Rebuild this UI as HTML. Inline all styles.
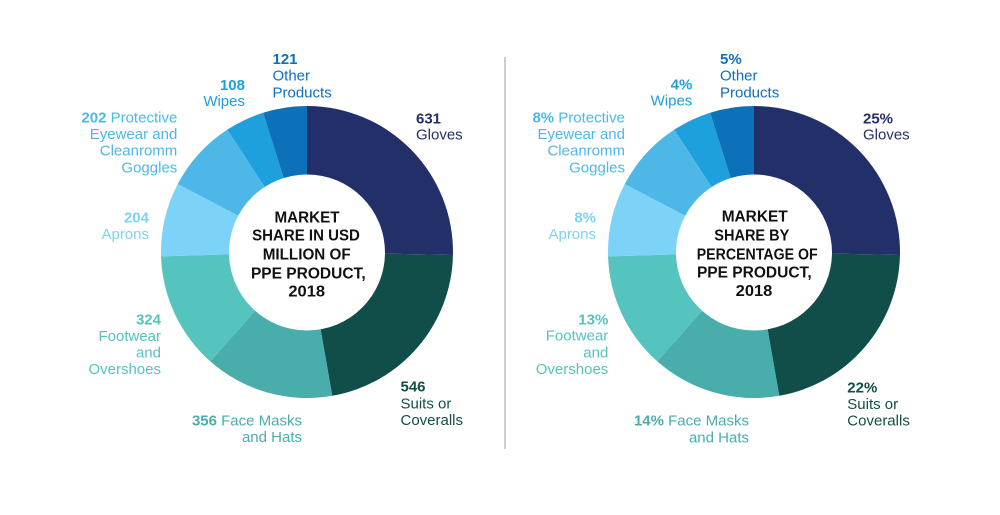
<!DOCTYPE html>
<html>
<head>
<meta charset="utf-8">
<style>
  html, body { margin: 0; padding: 0; background: #ffffff; }
  body { width: 1000px; height: 515px; overflow: hidden; }
  svg { display: block; }
  text { font-family: "Liberation Sans", "DejaVu Sans", sans-serif; font-size: 15px; }
  .b { font-weight: bold; }
  .c { font-weight: bold; font-size: 16px; fill: #111111; }
</style>
</head>
<body>
<svg width="1000" height="515" viewBox="0 0 1000 515" xmlns="http://www.w3.org/2000/svg">
  <rect x="0" y="0" width="1000" height="515" fill="#ffffff"/>

  <!-- Divider -->
  <line x1="505" y1="57" x2="505" y2="449" stroke="#bdbdbd" stroke-width="1.5"/>

  <!-- LEFT DONUT -->
  <g id="donut">
    <path d="M307 252 L307 106 A146 146 0 0 1 452.97 254.94 Z" fill="#232f69"/>
    <path d="M307 252 L452.97 254.94 A146 146 0 0 1 332.27 395.80 Z" fill="#114d49"/>
    <path d="M307 252 L332.27 395.80 A146 146 0 0 1 210.31 361.40 Z" fill="#49aeab"/>
    <path d="M307 252 L210.31 361.40 A146 146 0 0 1 161.07 256.42 Z" fill="#55c3be"/>
    <path d="M307 252 L161.07 256.42 A146 146 0 0 1 177.77 184.05 Z" fill="#7dd3f7"/>
    <path d="M307 252 L177.77 184.05 A146 146 0 0 1 227.30 129.67 Z" fill="#4db8e8"/>
    <path d="M307 252 L227.30 129.67 A146 146 0 0 1 263.15 112.74 Z" fill="#1ea0dc"/>
    <path d="M307 252 L263.15 112.74 A146 146 0 0 1 307 106 Z" fill="#0d71b9"/>
    <circle cx="307" cy="252.5" r="78" fill="#ffffff"/>
  </g>

  <text class="c" x="307" y="222.3" text-anchor="middle" textLength="65" lengthAdjust="spacingAndGlyphs">MARKET</text>
  <text class="c" x="306" y="240.7" text-anchor="middle" textLength="107.7" lengthAdjust="spacingAndGlyphs">SHARE IN USD</text>
  <text class="c" x="306.7" y="259.3" text-anchor="middle" textLength="88" lengthAdjust="spacingAndGlyphs">MILLION OF</text>
  <text class="c" x="308.3" y="278.3" text-anchor="middle" textLength="114.7" lengthAdjust="spacingAndGlyphs">PPE PRODUCT,</text>
  <text class="c" x="306.7" y="296.7" text-anchor="middle" textLength="36.7" lengthAdjust="spacingAndGlyphs">2018</text>

  <!-- Left labels -->
  <g fill="#232f69">
    <text class="b" x="416" y="123.3">631</text>
    <text x="416" y="139.5">Gloves</text>
  </g>
  <g fill="#114d49">
    <text class="b" x="400.5" y="391.5">546</text>
    <text x="400.5" y="408.5">Suits or</text>
    <text x="400.5" y="425">Coveralls</text>
  </g>
  <g fill="#49aeab" text-anchor="end">
    <text x="302" y="425.5"><tspan class="b">356</tspan> Face Masks</text>
    <text x="302" y="442">and Hats</text>
  </g>
  <g fill="#55c3be" text-anchor="end">
    <text class="b" x="161" y="324.3">324</text>
    <text x="161" y="340.8">Footwear</text>
    <text x="161" y="357.3">and</text>
    <text x="161" y="374">Overshoes</text>
  </g>
  <g fill="#7dd3f5" text-anchor="end">
    <text class="b" x="149" y="222.3">204</text>
    <text x="149" y="239">Aprons</text>
  </g>
  <g fill="#4db8e8" text-anchor="end">
    <text x="177.3" y="122.3"><tspan class="b">202</tspan> Protective</text>
    <text x="177.3" y="139">Eyewear and</text>
    <text x="177.3" y="155.7">Cleanromm</text>
    <text x="177.3" y="172.3">Goggles</text>
  </g>
  <g fill="#1ea0dc" text-anchor="end">
    <text class="b" x="245" y="90">108</text>
    <text x="245" y="106">Wipes</text>
  </g>
  <g fill="#0d71b9">
    <text class="b" x="272.5" y="64">121</text>
    <text x="272.5" y="80.7">Other</text>
    <text x="272.5" y="97.3">Products</text>
  </g>

  <!-- RIGHT DONUT -->
  <use href="#donut" transform="translate(447,0)"/>

  <text class="c" x="754.7" y="221.7" text-anchor="middle" textLength="66" lengthAdjust="spacingAndGlyphs">MARKET</text>
  <text class="c" x="751.8" y="240.7" text-anchor="middle" textLength="75" lengthAdjust="spacingAndGlyphs">SHARE BY</text>
  <text class="c" x="757.2" y="259.3" text-anchor="middle" textLength="121" lengthAdjust="spacingAndGlyphs">PERCENTAGE OF</text>
  <text class="c" x="754.3" y="277.7" text-anchor="middle" textLength="114.7" lengthAdjust="spacingAndGlyphs">PPE PRODUCT,</text>
  <text class="c" x="754" y="296" text-anchor="middle" textLength="36.7" lengthAdjust="spacingAndGlyphs">2018</text>

  <!-- Right labels -->
  <g fill="#232f69">
    <text class="b" x="863" y="123.3">25%</text>
    <text x="863" y="139.5">Gloves</text>
  </g>
  <g fill="#114d49">
    <text class="b" x="847.3" y="392.3">22%</text>
    <text x="847.3" y="408.8">Suits or</text>
    <text x="847.3" y="425.3">Coveralls</text>
  </g>
  <g fill="#49aeab" text-anchor="end">
    <text x="749" y="425.7"><tspan class="b">14%</tspan> Face Masks</text>
    <text x="749" y="442.3">and Hats</text>
  </g>
  <g fill="#55c3be" text-anchor="end">
    <text class="b" x="608.3" y="324.3">13%</text>
    <text x="608.3" y="340.7">Footwear</text>
    <text x="608.3" y="357.3">and</text>
    <text x="608.3" y="374">Overshoes</text>
  </g>
  <g fill="#7dd3f5" text-anchor="end">
    <text class="b" x="596" y="222.3">8%</text>
    <text x="596" y="239">Aprons</text>
  </g>
  <g fill="#4db8e8" text-anchor="end">
    <text x="625" y="122.3"><tspan class="b">8%</tspan> Protective</text>
    <text x="625" y="139">Eyewear and</text>
    <text x="625" y="155.7">Cleanromm</text>
    <text x="625" y="172.3">Goggles</text>
  </g>
  <g fill="#1ea0dc" text-anchor="end">
    <text class="b" x="692.3" y="89.3">4%</text>
    <text x="692.3" y="105.7">Wipes</text>
  </g>
  <g fill="#0d71b9">
    <text class="b" x="720" y="64">5%</text>
    <text x="720" y="80.7">Other</text>
    <text x="720" y="97.3">Products</text>
  </g>
</svg>
</body>
</html>
